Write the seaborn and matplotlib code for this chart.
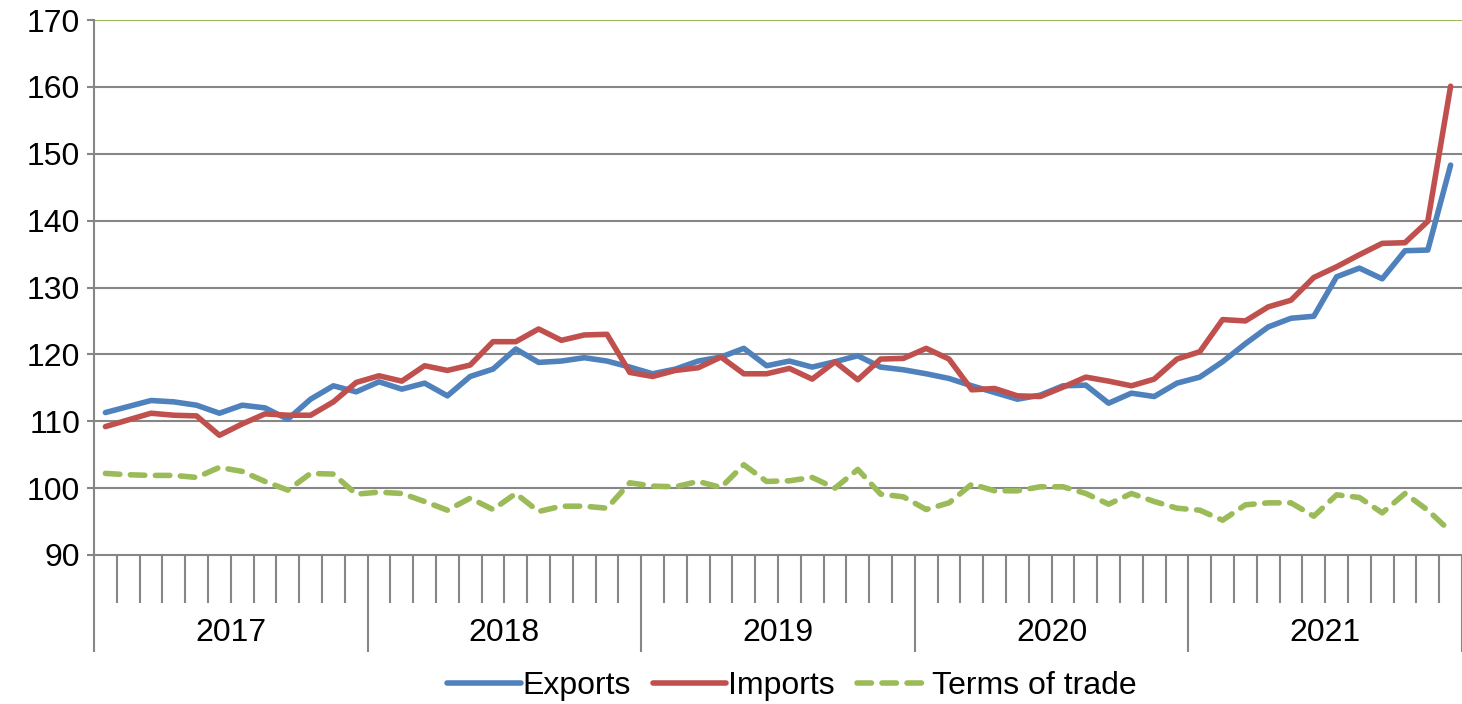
import matplotlib
matplotlib.use("Agg")
import matplotlib.pyplot as plt
import seaborn as sns
import numpy as np
import pandas as pd

# Monthly indices, Jan 2017 - Dec 2021
years = ["2017", "2018", "2019", "2020", "2021"]

exports = [111.3, 112.2, 113.1, 112.9, 112.4, 111.2, 112.4, 112.0, 110.3, 113.3, 115.3, 114.4,
           115.9, 114.8, 115.7, 113.8, 116.7, 117.8, 120.8, 118.8, 119.0, 119.5, 119.0, 118.1,
           117.1, 117.8, 119.0, 119.6, 120.9, 118.3, 119.0, 118.1, 118.9, 119.8, 118.1, 117.7,
           117.1, 116.4, 115.3, 114.3, 113.3, 113.9, 115.3, 115.4, 112.7, 114.2, 113.7, 115.7,
           116.6, 118.9, 121.6, 124.1, 125.4, 125.7, 131.6, 132.9, 131.3, 135.5, 135.6, 148.3]

imports = [109.2, 110.2, 111.2, 110.9, 110.8, 107.9, 109.6, 111.1, 110.9, 110.9, 112.9, 115.8,
           116.8, 116.0, 118.3, 117.6, 118.4, 121.9, 121.9, 123.8, 122.1, 122.9, 123.0, 117.3,
           116.7, 117.6, 118.0, 119.6, 117.1, 117.1, 117.9, 116.3, 118.9, 116.2, 119.3, 119.4,
           120.9, 119.3, 114.7, 114.9, 113.8, 113.7, 115.1, 116.6, 116.0, 115.3, 116.3, 119.3,
           120.4, 125.2, 125.0, 127.1, 128.1, 131.5, 133.1, 134.9, 136.6, 136.7, 139.9, 160.1]

terms_of_trade = [102.2, 102.0, 101.9, 101.9, 101.6, 103.1, 102.5, 101.0, 99.7, 102.2, 102.1, 99.1,
                  99.4, 99.2, 98.0, 96.7, 98.5, 96.8, 99.2, 96.5, 97.3, 97.3, 97.0, 100.8,
                  100.3, 100.2, 101.0, 100.1, 103.5, 101.0, 101.1, 101.6, 100.0, 102.8, 99.1, 98.7,
                  96.8, 97.8, 100.6, 99.6, 99.6, 100.2, 100.2, 99.2, 97.6, 99.2, 98.0, 97.0,
                  96.7, 95.2, 97.5, 97.8, 97.8, 95.8, 99.0, 98.6, 96.3, 99.2, 96.7, 93.5]

months = np.arange(len(exports)) + 0.5

df = pd.DataFrame({"month": months, "Exports": exports, "Imports": imports,
                   "Terms of trade": terms_of_trade})
long_df = df.melt(id_vars="month", var_name="series", value_name="index")

sns.set_style("white")
plt.rcParams["font.family"] = ["Liberation Sans", "DejaVu Sans"]
plt.rcParams["text.color"] = "black"
plt.rcParams["xtick.color"] = "black"
plt.rcParams["ytick.color"] = "black"

grey = "#868686"
fs = 23
lw = 4
palette = {"Exports": "#4F81BD", "Imports": "#C0504D", "Terms of trade": "#9BBB59"}
dashes = {"Exports": "", "Imports": "", "Terms of trade": (2.6, 1.9)}

fig = plt.figure(figsize=(14.62, 7.04), dpi=100)
ax = fig.add_axes([94 / 1462, 1 - 555 / 704, 1 - 94 / 1462, 535 / 704])

# gridlines
for v in range(100, 170, 10):
    ax.axhline(v, color=grey, lw=1.5, zorder=0)
ax.axhline(170, color="#9BBB59", lw=1.5, zorder=0)

sns.lineplot(data=long_df, x="month", y="index", hue="series", style="series",
             palette=palette, dashes=dashes, linewidth=lw, ax=ax)

for line in ax.get_lines():
    line.set_solid_capstyle("round")
    line.set_dash_capstyle("round")
    line.set_solid_joinstyle("round")

ax.set_xlim(0, 60)
ax.set_ylim(90, 170)
ax.set_xlabel("")
ax.set_ylabel("")

# y axis
ax.set_yticks(range(90, 171, 10))
ax.tick_params(axis="y", left=True, labelsize=fs, labelcolor="black",
               length=5, width=1.5, color=grey, pad=5)

# x axis: month ticks + longer year ticks, year labels centered
ax.set_xticks(range(0, 61, 12))
ax.set_xticks(range(61), minor=True)
ax.tick_params(axis="x", which="major", bottom=True, direction="out", length=70,
               width=1.5, color=grey, labelbottom=False)
ax.tick_params(axis="x", which="minor", bottom=True, direction="out", length=34.5,
               width=1.5, color=grey)
for k, yr in enumerate(years):
    ax.text(12 * k + 6, -0.145, yr, transform=ax.get_xaxis_transform(),
            ha="center", va="center", fontsize=fs, color="black")

sns.despine(ax=ax, top=True, right=True)
for side in ["left", "bottom"]:
    ax.spines[side].set_color(grey)
    ax.spines[side].set_linewidth(1.5)

handles, labels = ax.get_legend_handles_labels()
ax.get_legend().remove()
leg = fig.legend(handles, labels, loc="center", bbox_to_anchor=(0.5417, 0.0256), ncol=3,
                 frameon=False, fontsize=fs, handlelength=2.3, handletextpad=0.05,
                 columnspacing=0.7)
for h in leg.get_lines():
    h.set_linewidth(lw)
    h.set_solid_capstyle("round")
    h.set_dash_capstyle("round")

fig.savefig("out.png", dpi=100)
